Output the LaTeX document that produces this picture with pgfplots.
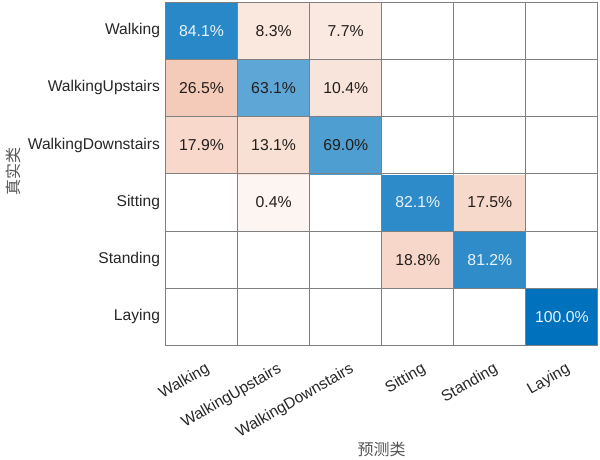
\documentclass[border=0pt]{standalone}
\usepackage{fontspec}
\setmainfont{Liberation Sans}
\newfontfamily\cjk{Noto Sans CJK SC}
\usepackage{pgfplots}
\usepackage{pgfplotstable}
\pgfplotsset{compat=1.18}
\definecolor{gridgray}{RGB}{128,128,128}
\definecolor{ticktext}{RGB}{38,38,38}
\definecolor{labeltext}{RGB}{85,85,85}
\definecolor{darktext}{RGB}{35,30,28}
\definecolor{lighttext}{RGB}{235,243,250}
% x = predicted class index, y = true class (5 = Walking ... 0 = Laying)
% v = row-normalized percentage, shade = signed value for colouring, tc = text colour (2 light, 1 dark, 0 none)
\pgfplotstableread{
x y v shade tc
0 0 0 0 0
1 0 0 0 0
2 0 0 0 0
3 0 0 0 0
4 0 0 0 0
5 0 100.0 100.0 2
0 1 0 0 0
1 1 0 0 0
2 1 0 0 0
3 1 18.8 -18.8 1
4 1 81.2 81.2 2
5 1 0 0 0
0 2 0 0 0
1 2 0.4 -0.4 1
2 2 0 0 0
3 2 82.1 82.1 2
4 2 17.5 -17.5 1
5 2 0 0 0
0 3 17.9 -17.9 1
1 3 13.1 -13.1 1
2 3 69.0 69.0 1
3 3 0 0 0
4 3 0 0 0
5 3 0 0 0
0 4 26.5 -26.5 1
1 4 63.1 63.1 1
2 4 10.4 -10.4 1
3 4 0 0 0
4 4 0 0 0
5 4 0 0 0
0 5 84.1 84.1 2
1 5 8.3 -8.3 1
2 5 7.7 -7.7 1
3 5 0 0 0
4 5 0 0 0
5 5 0 0 0
}\cmdata
\begin{document}
\begin{tikzpicture}
\path[use as bounding box] (0pt,0pt) rectangle (600pt,-460pt);
\begin{axis}[
  at={(165.5pt,-345.5pt)}, anchor=south west,
  scale only axis, width=432.5pt, height=343.5pt,
  xmin=-0.5, xmax=5.5, ymin=-0.5, ymax=5.5,
  enlargelimits=false,
  axis on top,
  colormap={cmx}{rgb255(0pt)=(217,83,25); rgb255(99.8pt)=(253,245,241); rgb255(100pt)=(255,255,255); rgb255(200pt)=(0,114,189)},
  point meta min=-100, point meta max=100,
  xtick={0,1,2,3,4,5},
  xticklabels={Walking,WalkingUpstairs,WalkingDownstairs,Sitting,Standing,Laying},
  ytick={0,1,2,3,4,5},
  yticklabels={Laying,Standing,Sitting,WalkingDownstairs,WalkingUpstairs,Walking},
  minor xtick={-0.5,0.5,1.5,2.5,3.5,4.5,5.5},
  minor ytick={-0.5,0.5,1.5,2.5,3.5,4.5,5.5},
  major tick length=0pt, minor tick length=0pt,
  minor grid style={draw=gridgray, line width=1pt},
  xminorgrids=true, yminorgrids=true,
  axis line style={draw=gridgray, line width=1pt},
  tick label style={font=\fontsize{15.6}{18}\selectfont, text=ticktext},
  x tick label style={rotate=30, anchor=north east, xshift=-2pt, yshift=-12pt},
  y tick label style={xshift=-2pt},
  /pgf/number format/assume math mode=true,
  xlabel={\cjk 预测类},
  ylabel={\cjk 真实类},
  label style={font=\fontsize{16}{18}\selectfont, text=labeltext},
  xlabel style={at={(axis description cs:0.5,-0.302)}, anchor=center},
  ylabel style={at={(axis description cs:-0.352,0.506)}, anchor=center},
]
\addplot[matrix plot*, mesh/cols=6, point meta=\thisrow{shade}, shader=flat corner]
  table[x=x, y=y] {\cmdata};
\addplot[draw=none, mark=none, point meta=\thisrow{v},
  restrict expr to domain={\thisrow{tc}}{1:1},
  nodes near coords={\pgfmathprintnumber[fixed,fixed zerofill,precision=1]{\pgfplotspointmeta}\%},
  nodes near coords align=center,
  every node near coord/.append style={font=\fontsize{15.8}{18}\selectfont, text=darktext, anchor=center}]
  table[x=x, y=y] {\cmdata};
\addplot[draw=none, mark=none, point meta=\thisrow{v},
  restrict expr to domain={\thisrow{tc}}{2:2},
  nodes near coords={\pgfmathprintnumber[fixed,fixed zerofill,precision=1]{\pgfplotspointmeta}\%},
  nodes near coords align=center,
  every node near coord/.append style={font=\fontsize{15.8}{18}\selectfont, text=lighttext, anchor=center}]
  table[x=x, y=y] {\cmdata};
\end{axis}
\end{tikzpicture}
\end{document}
